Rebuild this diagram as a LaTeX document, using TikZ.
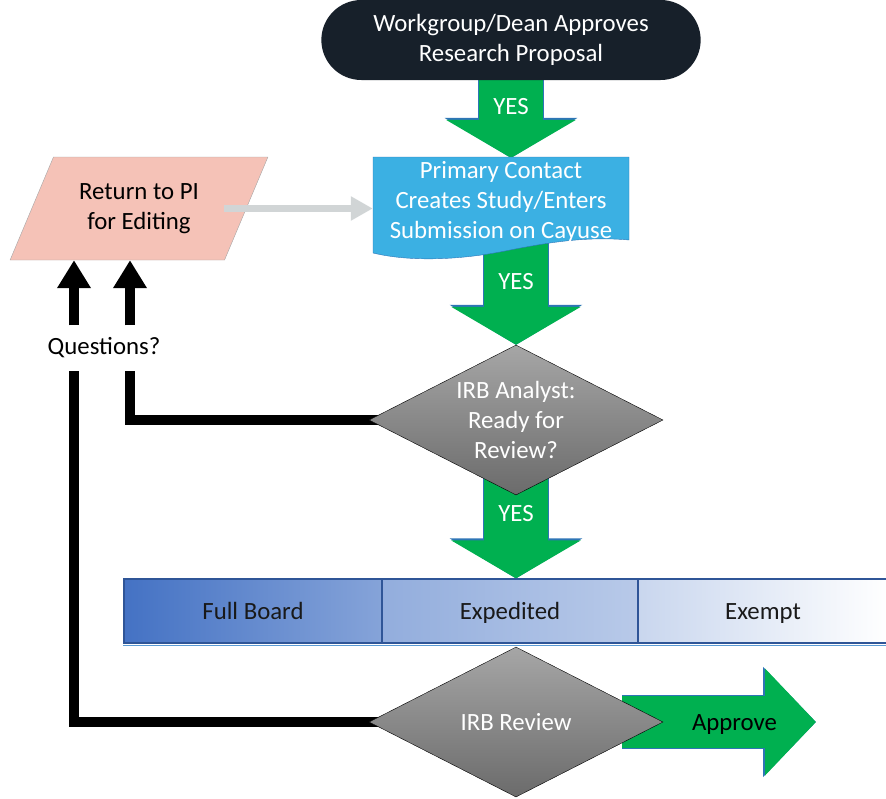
\documentclass[tikz,border=0pt]{standalone}
\usepackage{fontspec}
\setmainfont{Carlito}
\usetikzlibrary{arrows.meta,calc,shapes.geometric,shapes.misc,backgrounds}
\definecolor{termdark}{HTML}{17202A}
\definecolor{yesgreen}{HTML}{00B050}
\definecolor{yesedge}{HTML}{2E75B6}
\definecolor{docblue}{HTML}{3BB0E3}
\definecolor{pinkbox}{HTML}{F5C2B7}
\definecolor{backgray}{HTML}{D1D5D6}
\definecolor{barblue}{HTML}{4472C4}
\definecolor{baredge}{HTML}{2F5597}
\definecolor{barline}{HTML}{5B9BD5}
\definecolor{dtop}{HTML}{A6A6A6}
\definecolor{dbot}{HTML}{6B6B6B}

\begin{document}
\begin{tikzpicture}[x=1pt,y=-1pt,font=\fontsize{24.8}{30}\selectfont,
  decision/.style={diamond,draw=black,thin,top color=dtop,bottom color=dbot,text=white,
    aspect=1.96,minimum width=294,minimum height=150,inner sep=-5pt,align=center},
  boardcell/.style={rectangle,draw=baredge,line width=1.2pt,minimum height=64,text=black!90,
    text height=16pt,text depth=0pt},
  yeslabel/.style={text=white,text height=16pt,text depth=0pt},
  yes/.style={yesgreen,line width=64pt,-{Triangle[width=128pt,length=38pt]},
    preaction={draw=yesedge,line width=66pt,-{Triangle[width=131pt,length=40pt]}}},
  approvearrow/.style={yesgreen,line width=52pt,-{Triangle[width=104pt,length=51pt]},
    preaction={draw=yesedge,line width=54pt,-{Triangle[width=107pt,length=53pt]}}},
  fat/.style={line width=10pt},
  fatarrow/.style={fat,-{Triangle[width=32pt,length=28pt]}}]
\useasboundingbox (0,0) rectangle (886,798);

\node[rounded rectangle,fill=termdark,text=white,minimum width=386,minimum height=80,align=center]
  (start) at (511,40) {Workgroup/Dean Approves\\Research Proposal};
% document shape with wavy foot
\filldraw[fill=docblue,draw=yesedge,thin] (373,157) -- (629,157) -- (629,240)
  .. controls (585,236) and (545,243) .. (505,251)
  .. controls (460,260) and (410,262) .. (373,253) -- cycle;
\node[text=white,align=center,minimum width=256,minimum height=86] (contact) at (501,202)
  {Primary Contact\\Creates Study/Enters\\Submission on Cayuse};
\node[trapezium,trapezium left angle=60.6,trapezium right angle=119.4,trapezium stretches=true,
  minimum width=258,minimum height=103,fill=pinkbox,draw=gray!70,align=center]
  (ret) at (139,208.5) {Return to PI\\for Editing};
\node[minimum height=45,inner sep=0] (q) at (104,348) {Questions?};
\node[decision] (d1) at (516,420) {IRB Analyst:\\Ready for\\Review?};
\node[boardcell,minimum width=258,left color=barblue,right color=barblue!65!white] (full) at (253,611) {Full Board};
\node[boardcell,minimum width=256,left color=barblue!58!white,right color=barblue!38!white] (exp) at (510,611) {Expedited};
\node[boardcell,minimum width=250,left color=barblue!29!white,right color=white] (exm) at (763,611) {Exempt};
\draw[barline] ([yshift=-2pt]full.south west) -- ([yshift=-2pt]exm.south east);
\node[decision] (d2) at (516,722) {IRB Review};
\coordinate (go) at ($(d2.center)+(106,0)$);
\coordinate (done) at (816,722);

\coordinate (qa) at ($(q.north)+(-30,0)$);
\coordinate (qb) at ($(q.north)+(26,0)$);
\coordinate (qc) at ($(q.south)+(-30,0)$);
\coordinate (qd) at ($(q.south)+(26,0)$);

\begin{scope}[on background layer]
\draw[yes] (start.south) -- node[pos=.34,yeslabel]{YES} (start.south |- contact.north);
\draw[yes] (contact.center -| d1.north) -- node[pos=.56,yeslabel]{YES} (d1.north);
\draw[yes] (d1.center) -- node[pos=.59,yeslabel]{YES} (d1.center |- exp.north);
\draw[approvearrow] (go) -- node[pos=.58,yeslabel,text=black]{Approve} (done);
\draw[fat] (d1.center) -| (qd);
\draw[fat] (d2.center) -| (qc);
\end{scope}

\draw[fatarrow] (qa) -- (qa |- ret.south);
\draw[fatarrow] (qb) -- (qb |- ret.south);
\draw[backgray,line width=7pt,-{Triangle[width=23pt,length=22pt]}] ([xshift=85pt]ret.center) -- (ret.center -| contact.west);
\end{tikzpicture}
\end{document}
